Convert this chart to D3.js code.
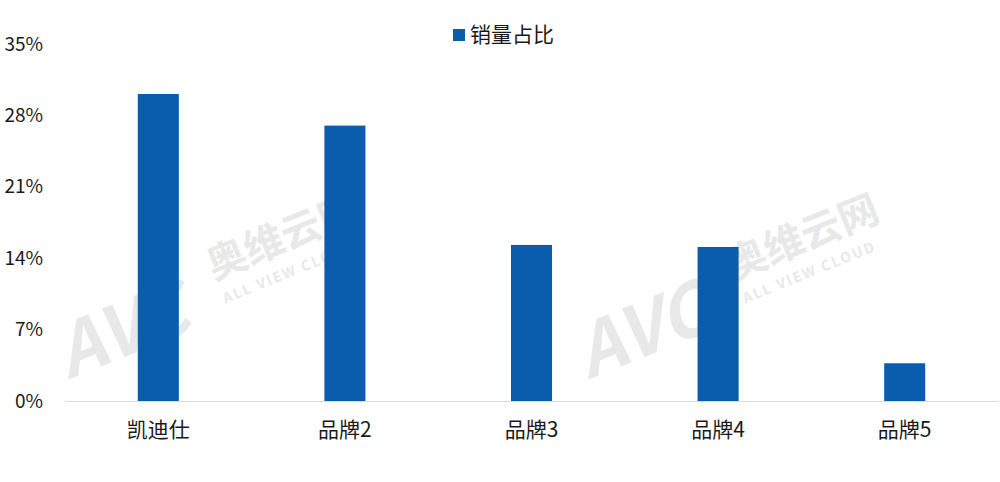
<!DOCTYPE html>
<html>
<head>
<meta charset="utf-8">
<script src="https://cdn.jsdelivr.net/npm/d3@7"></script>
<style>
  body { margin: 0; background: #fff; }
  text { font-family: "Noto Sans CJK SC", "Noto Sans", sans-serif; }
</style>
</head>
<body>
<div id="chart"></div>
<script>
// data
const brands = ["凯迪仕", "品牌2", "品牌3", "品牌4", "品牌5"];
const share = [0.301, 0.270, 0.153, 0.151, 0.037];
const yTicks = [0, 0.07, 0.14, 0.21, 0.28, 0.35];
const seriesName = "销量占比";

const W = 1000, H = 482;
const margin = {top: 44, right: 2, bottom: 81, left: 65};
const color = "#0a5cad";

const svg = d3.select("#chart").append("svg")
  .attr("width", W).attr("height", H);

// watermark, faint
const wm = svg.append("g").attr("fill", "#e8e8e8");
[[200, 305], [720, 305]].forEach(function(p) {
  const g = wm.append("g").attr("transform", "translate(" + p[0] + "," + p[1] + ") rotate(-22)");
  g.append("text").attr("x", -150).attr("y", 20)
    .style("font-size", "72px").style("font-weight", "bold").style("font-style", "italic")
    .text("AVC");
  g.append("text").attr("x", 22).attr("y", -18)
    .style("font-size", "40px").style("font-weight", "bold")
    .text("奥维云网");
  g.append("text").attr("x", 24).attr("y", 8)
    .style("font-size", "14px").style("font-weight", "bold").style("letter-spacing", "2px")
    .text("ALL VIEW CLOUD");
});

const plot = svg.append("g")
  .attr("transform", "translate(" + margin.left + "," + margin.top + ")");
const w = W - margin.left - margin.right;
const h = H - margin.top - margin.bottom;

const x = d3.scaleBand().domain(brands).range([0, w]).paddingInner(0.78).paddingOuter(0.39);
const y = d3.scaleLinear().domain([0, 0.35]).range([h, 0]);

// bars
plot.selectAll("rect.bar")
  .data(brands)
  .enter().append("rect")
    .attr("class", "bar")
    .attr("x", function(d) { return x(d); })
    .attr("width", x.bandwidth())
    .attr("y", function(d, i) { return y(share[i]); })
    .attr("height", function(d, i) { return h - y(share[i]); })
    .attr("fill", color);

// x axis
const xAxis = plot.append("g")
  .attr("transform", "translate(0," + h + ")")
  .call(d3.axisBottom(x).tickSize(0).tickPadding(21));
xAxis.select(".domain").attr("stroke", "#d9d9d9").attr("stroke-width", 1.2);
xAxis.selectAll("text").style("font-size", "21px").attr("fill", "#1a1a1a");

// y axis (labels only)
const yAxis = plot.append("g")
  .call(d3.axisLeft(y).tickValues(yTicks).tickSize(0).tickPadding(22)
    .tickFormat(function(d) { return Math.round(d * 100) + "%"; }));
yAxis.select(".domain").remove();
yAxis.selectAll("text").style("font-size", "19px").attr("fill", "#1a1a1a");

// legend
const lg = svg.append("g").attr("transform", "translate(453,29)");
lg.append("rect").attr("width", 12).attr("height", 12).attr("fill", color);
lg.append("text").attr("x", 17).attr("y", 6).attr("dy", "0.35em")
  .style("font-size", "21px").attr("fill", "#1a1a1a").text(seriesName);
</script>
</body>
</html>
